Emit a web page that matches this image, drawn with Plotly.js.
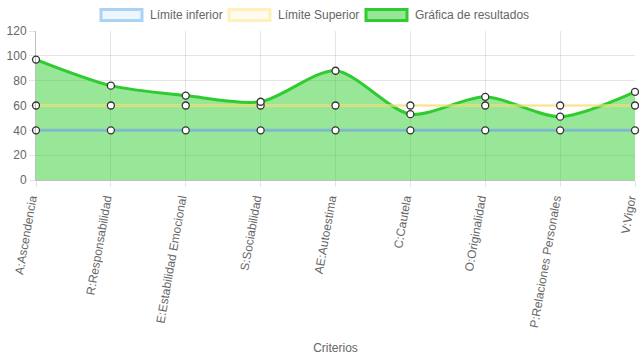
<!DOCTYPE html>
<html><head><meta charset="utf-8">
<script src="https://cdn.plot.ly/plotly-3.0.1.min.js"></script>
<style>html,body{margin:0;padding:0;background:#fff}#c{width:639px;height:360px}</style>
</head><body><div id="c"></div>
<script>
const categories = ["A:Ascendencia","R:Responsabilidad","E:Estabilidad Emocional","S:Sociabilidad","AE:Autoestima","C:Cautela","O:Originalidad","P:Relaciones Personales","V:Vigor"];
const lowerLimit = [40,40,40,40,40,40,40,40,40];
const upperLimit = [60,60,60,60,60,60,60,60,60];
const results = [97,76,68,63,88,53,67,51,71];
const seriesNames = ["Límite inferior","Límite Superior","Gráfica de resultados"];

const marker = {size:7, color:'#fff', line:{color:'#333', width:1.3}};
const font = {family:'"Liberation Sans", Arial, sans-serif', size:12, color:'#666'};

const traces = [
  {x:categories, y:results, type:'scatter', mode:'lines', fill:'tozeroy',
   fillcolor:'rgba(50,205,50,0.5)', line:{color:'#2ecc2e', width:3, shape:'spline', smoothing:0.8},
   showlegend:false, cliponaxis:false, hoverinfo:'skip'},
  {x:categories, y:upperLimit, type:'scatter', mode:'lines',
   line:{color:'rgba(255,225,120,0.6)', width:3}, showlegend:false, hoverinfo:'skip'},
  {x:categories, y:lowerLimit, type:'scatter', mode:'lines',
   line:{color:'rgba(120,170,230,0.7)', width:3}, showlegend:false, hoverinfo:'skip'},
  {x:categories, y:lowerLimit, type:'scatter', mode:'markers', marker:marker, cliponaxis:false, showlegend:false},
  {x:categories, y:upperLimit, type:'scatter', mode:'markers', marker:marker, cliponaxis:false, showlegend:false},
  {x:categories, y:results, type:'scatter', mode:'markers', marker:marker, cliponaxis:false, showlegend:false}
];

// manual legend (Chart.js style boxes), in pixel positions converted to paper coords
const L = 36, R = 635, T = 31, B = 180;
const px = v => (v - L) / (R - L);
const py = v => (B - v) / (B - T);
const legendItems = [
  {x0:101, name:seriesNames[0], fill:'#eef6fd', border:'#a9d2f5'},
  {x0:229, name:seriesNames[1], fill:'#fffbee', border:'#fff0bc'},
  {x0:366, name:seriesNames[2], fill:'#98e598', border:'#2ecc2e'}
];
const shapes = [], annotations = [];
legendItems.forEach(it => {
  shapes.push({type:'rect', xref:'paper', yref:'paper', x0:px(it.x0), x1:px(it.x0+41),
    y0:py(20.5), y1:py(9.5), fillcolor:it.fill, line:{color:it.border, width:3}});
  annotations.push({xref:'paper', yref:'paper', x:px(it.x0+47), y:py(15), xanchor:'left', yanchor:'middle',
    text:it.name, showarrow:false, font:font});
});

const layout = {
  width:639, height:360,
  margin:{l:L, r:639-R, t:T, b:360-B},
  paper_bgcolor:'#fff', plot_bgcolor:'#fff',
  font:font,
  showlegend:false,
  shapes:shapes, annotations:annotations,
  xaxis:{type:'category', range:[0,8], tickangle:-80, showgrid:true, gridcolor:'rgba(0,0,0,0.1)',
         ticks:'outside', ticklen:6, tickcolor:'rgba(0,0,0,0.1)', showline:true, linecolor:'rgba(0,0,0,0.25)',
         tickfont:font, automargin:false, zeroline:false, ticklabelshift:-5,
         title:{text:'Criterios', font:font, standoff:15}},
  yaxis:{range:[0,120], dtick:20, showgrid:true, gridcolor:'rgba(0,0,0,0.1)', ticks:'outside', ticklen:6,
         tickcolor:'rgba(0,0,0,0.1)', showline:true, linecolor:'rgba(0,0,0,0.25)', zeroline:false,
         tickfont:font, automargin:false}
};
Plotly.newPlot('c', traces, layout, {staticPlot:true});
</script></body></html>
